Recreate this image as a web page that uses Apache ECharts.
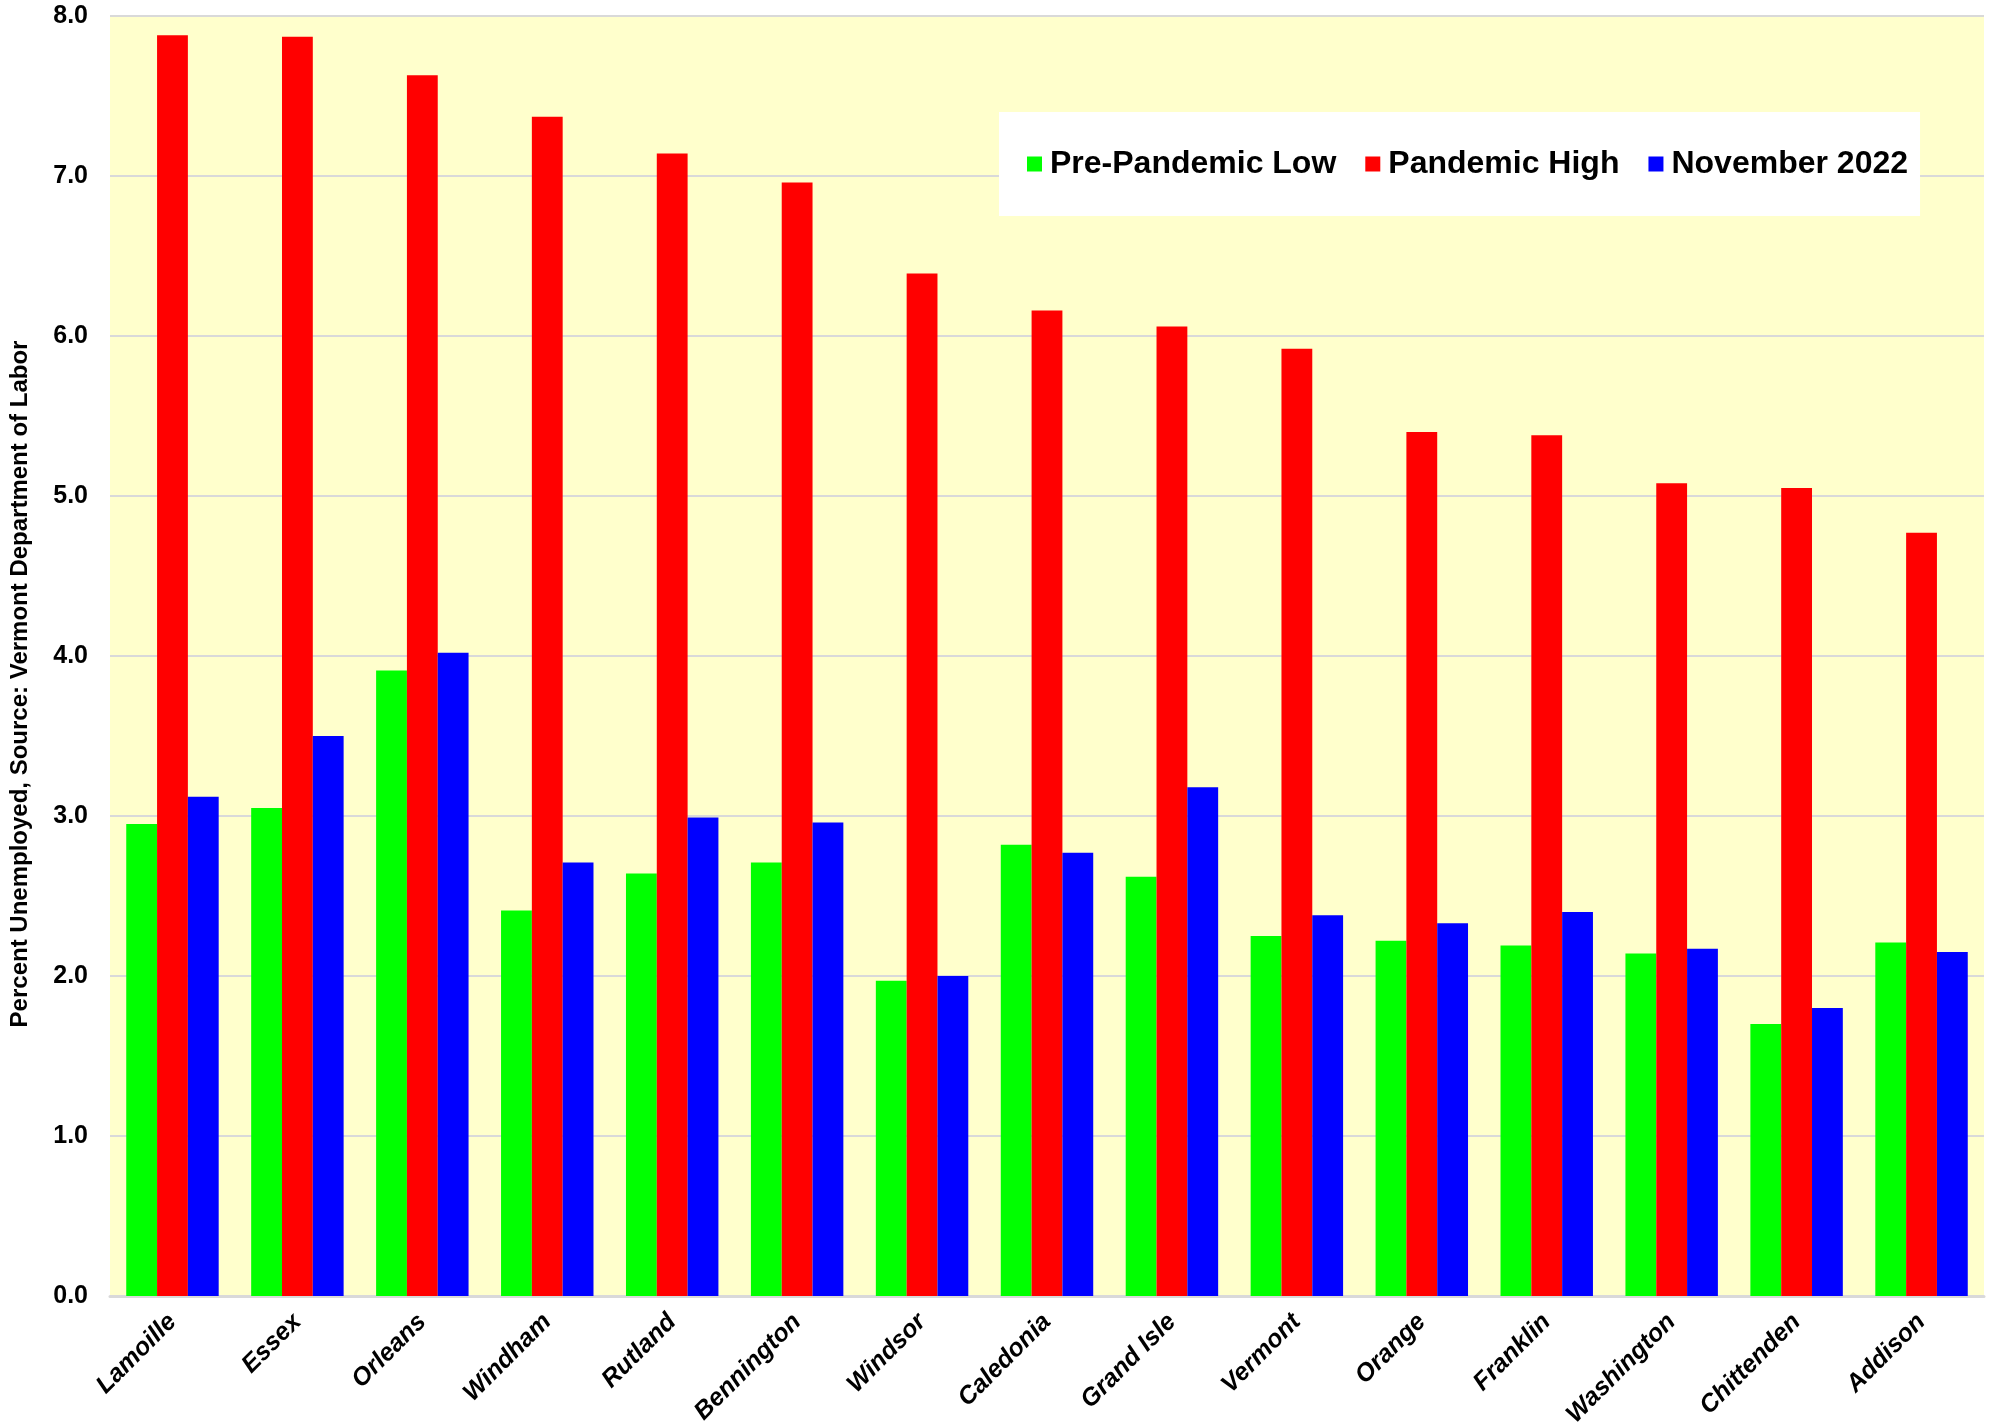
<!DOCTYPE html>
<html>
<head>
<meta charset="utf-8">
<script src="https://cdn.jsdelivr.net/npm/echarts@6/dist/echarts.min.js"></script>
<style>
    html, body { margin: 0; padding: 0; background: #fff; }
    #main { width: 1998px; height: 1423px; }
</style>
</head>
<body>
<div id="main"></div>
<script>
var counties = ['Lamoille', 'Essex', 'Orleans', 'Windham', 'Rutland', 'Bennington', 'Windsor',
    'Caledonia', 'Grand Isle', 'Vermont', 'Orange', 'Franklin', 'Washington', 'Chittenden', 'Addison'];

var preLow = [2.95, 3.05, 3.91, 2.41, 2.64, 2.71, 1.97, 2.82, 2.62, 2.25, 2.22, 2.19, 2.14, 1.70, 2.21];
var pandemicHigh = [7.88, 7.87, 7.63, 7.37, 7.14, 6.96, 6.39, 6.16, 6.06, 5.92, 5.40, 5.38, 5.08, 5.05, 4.77];
var nov2022 = [3.12, 3.50, 4.02, 2.71, 2.99, 2.96, 2.00, 2.77, 3.18, 2.38, 2.33, 2.40, 2.17, 1.80, 2.15];

var seriesNames = ['Pre-Pandemic Low', 'Pandemic High', 'November 2022'];
var seriesColors = ['#00ff00', '#ff0000', '#0000ff'];

var font = '"Liberation Sans", Arial, sans-serif';

var myChart = echarts.init(document.getElementById('main'));

function bar(name, data, color) {
    return {
        name: name,
        type: 'bar',
        data: data,
        barGap: '0%',
        barCategoryGap: '26%',
        itemStyle: { color: color },
        animation: false
    };
}

var option = {
    backgroundColor: '#ffffff',
    animation: false,
    grid: {
        left: 110,
        right: 14,
        top: 16,
        bottom: 127,
        outerBoundsMode: 'none',
        containLabel: false,
        show: true,
        backgroundColor: '#ffffcc',
        borderWidth: 0
    },
    legend: {
        data: seriesNames,
        left: 999,
        top: 112,
        padding: [36, 12, 36, 28],
        backgroundColor: '#ffffff',
        itemWidth: 15,
        itemHeight: 15,
        itemGap: 29,
        icon: 'rect',
        textStyle: {
            fontFamily: font,
            fontWeight: 'bold',
            fontSize: 32,
            color: '#000',
            padding: [0, 0, 0, 3]
        }
    },
    xAxis: {
        type: 'category',
        data: counties,
        axisLine: { lineStyle: { color: '#d9d9d9', width: 3 } },
        axisTick: { show: false },
        axisLabel: {
            rotate: 45,
            interval: 0,
            margin: 22,
            fontFamily: font,
            fontWeight: 'bold',
            fontStyle: 'italic',
            fontSize: 25,
            color: '#000'
        }
    },
    yAxis: {
        type: 'value',
        min: 0,
        max: 8,
        interval: 1,
        name: 'Percent Unemployed, Source: Vermont Department of Labor',
        nameLocation: 'middle',
        nameGap: 78,
        nameTextStyle: {
            fontFamily: font,
            fontWeight: 'bold',
            fontSize: 24,
            color: '#000',
            padding: [0, 56, 0, 0]
        },
        axisLine: { show: false },
        axisTick: { show: false },
        axisLabel: {
            margin: 22,
            fontFamily: font,
            fontWeight: 'bold',
            fontSize: 25,
            color: '#000',
            formatter: function (v) { return v.toFixed(1); }
        },
        splitLine: { lineStyle: { color: '#d9d9d9', width: 2 } }
    },
    series: [
        bar(seriesNames[0], preLow, seriesColors[0]),
        bar(seriesNames[1], pandemicHigh, seriesColors[1]),
        bar(seriesNames[2], nov2022, seriesColors[2])
    ]
};

myChart.setOption(option);
</script>
</body>
</html>
